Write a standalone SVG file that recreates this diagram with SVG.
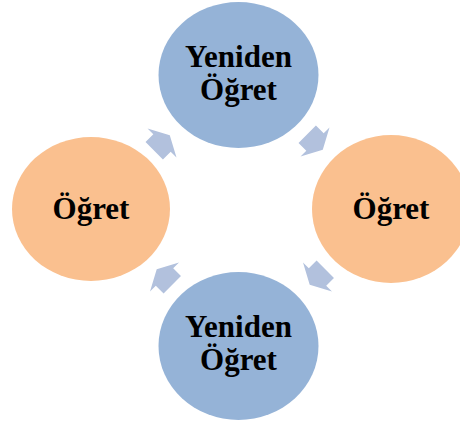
<svg xmlns="http://www.w3.org/2000/svg" width="460" height="428" viewBox="0 0 460 428">
<defs>
<style>
.blue{fill:#95B3D7}
.orange{fill:#FAC08F}
.arr{fill:#B2C1DD}
.lbl{font-family:"Liberation Serif","Times New Roman",serif;font-weight:bold;font-size:31px;fill:#000;text-anchor:middle}
</style>
<polygon id="arrow" points="-11,-12.3 0,-12.3 0,-20.5 11,0 0,20.5 0,12.3 -11,12.3"/>
</defs>
<rect width="460" height="428" fill="#fff"/>
<g id="connectors" class="arr">
<use href="#arrow" transform="translate(162,143) rotate(-45)"/>
<use href="#arrow" transform="translate(315,142) rotate(45)"/>
<use href="#arrow" transform="translate(317.5,277) rotate(135)"/>
<use href="#arrow" transform="translate(164.5,277) rotate(-135)"/>
</g>
<g id="node-top">
<ellipse class="blue" cx="238.5" cy="75" rx="80" ry="73"/>
<text class="lbl" x="238.5" y="67">Yeniden</text>
<text class="lbl" x="238.5" y="100">Öğret</text>
</g>
<g id="node-right">
<ellipse class="orange" cx="391" cy="209" rx="79" ry="74"/>
<text class="lbl" x="391" y="219">Öğret</text>
</g>
<g id="node-bottom">
<ellipse class="blue" cx="238.5" cy="346" rx="80" ry="74"/>
<text class="lbl" x="238.5" y="337">Yeniden</text>
<text class="lbl" x="238.5" y="370">Öğret</text>
</g>
<g id="node-left">
<ellipse class="orange" cx="91" cy="209" rx="79" ry="72"/>
<text class="lbl" x="91" y="219">Öğret</text>
</g>
</svg>
